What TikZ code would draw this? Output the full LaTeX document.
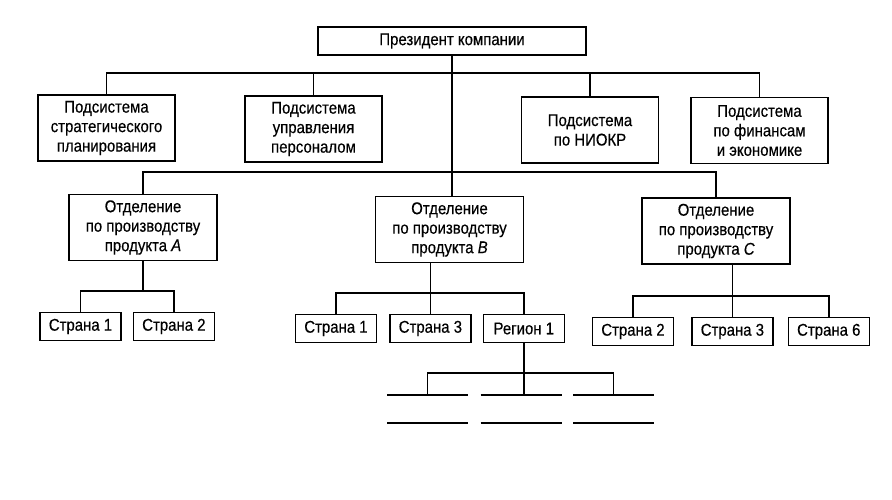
\documentclass[tikz,border=0pt]{standalone}
\usepackage{fontspec}
\setmainfont{Liberation Sans}[FakeStretch=0.88,FakeBold=0.4]
\usetikzlibrary{positioning}
\begin{document}
\begin{tikzpicture}[
            x=1pt,y=-1pt,line width=1.4pt,
            font=\fontsize{17}{19.5}\selectfont,
            main node/.style={draw,align=center,inner sep=1pt},
            sub node/.style={main node,minimum width=137pt,minimum height=66pt},
            div node/.style={main node,minimum width=148pt,minimum height=66pt},
            leaf node/.style={main node,minimum width=81pt,minimum height=28pt}]
        \useasboundingbox (0,0) rectangle (892,500);
            % Define vertices
        \node[main node,minimum width=268pt,minimum height=28pt] (pres) at (452,41) {Президент компании};
        \node[sub node] (plan) at (106.5,128) {Подсистема\\стратегического\\планирования};
        \node[sub node] (pers) at (313.5,129) {Подсистема\\управления\\персоналом};
        \node[sub node] (niokr) at (590,130) {Подсистема\\по НИОКР};
        \node[sub node] (fin) at (759.5,130.5) {Подсистема\\по финансам\\и экономике};

        \node[div node] (prodA) at (143,227.5) {Отделение\\по производству\\продукта \textit{A}};
        \node[div node] (prodB) at (449.5,229.5) {Отделение\\по производству\\продукта \textit{B}};
        \node[div node] (prodC) at (716,231) {Отделение\\по производству\\продукта \textit{C}};

        \node[leaf node] (a1) at (80.5,326.5) {Страна 1};
        \node[leaf node,right=11pt of a1] (a2) {Страна 2};
        \node[leaf node] (b1) at (336,328.5) {Страна 1};
        \node[leaf node,right=12pt of b1] (b3) {Страна 3};
        \node[leaf node,right=11pt of b3] (reg) {Регион 1};
        \node[leaf node] (c2) at (633,331.5) {Страна 2};
        \node[leaf node,right=17pt of c2] (c3) {Страна 3};
        \node[leaf node,right=14pt of c3] (c6) {Страна 6};

        \coordinate (bus1) at (452,73);
        \coordinate (bus2) at (452,172);
        \coordinate (r1) at (427.5,395);
        \coordinate (r2) at (521,395);
        \coordinate (r3) at (613.5,395);

        % Draw edges
        \draw (pres.south) -- (pres.south |- prodB.north);
        \draw (plan.north) -- (plan.north |- bus1) -- (fin.north |- bus1) -- (fin.north);
        \draw (pers.north) -- (pers.north |- bus1);
        \draw (niokr.north) -- (niokr.north |- bus1);
        \draw (prodA.north) -- (prodA.north |- bus2) -- (prodC.north |- bus2) -- (prodC.north);

        \draw (prodA.south) -- ++(0,31);
        \draw (a1.north) -- ++(0,-21) -| (a2.north);
        \draw (b3.north |- prodB.south) -- (b3.north);
        \draw (b1.north) -- ++(0,-21) -| (reg.north);
        \draw (c3.north |- prodC.south) -- (c3.north);
        \draw (c2.north) -- ++(0,-21) -| (c6.north);

        \draw (reg.south) -- (reg.south |- r2);
        \draw (r1) -- ++(0,-22) -| (r3);
        \foreach \r in {r1,r2,r3} {
            \draw ([xshift=-40.5pt]\r) -- ([xshift=40.5pt]\r);
            \draw ([shift={(-40.5pt,-28pt)}]\r) -- ([shift={(40.5pt,-28pt)}]\r);
        }
        \end{tikzpicture}
\end{document}
